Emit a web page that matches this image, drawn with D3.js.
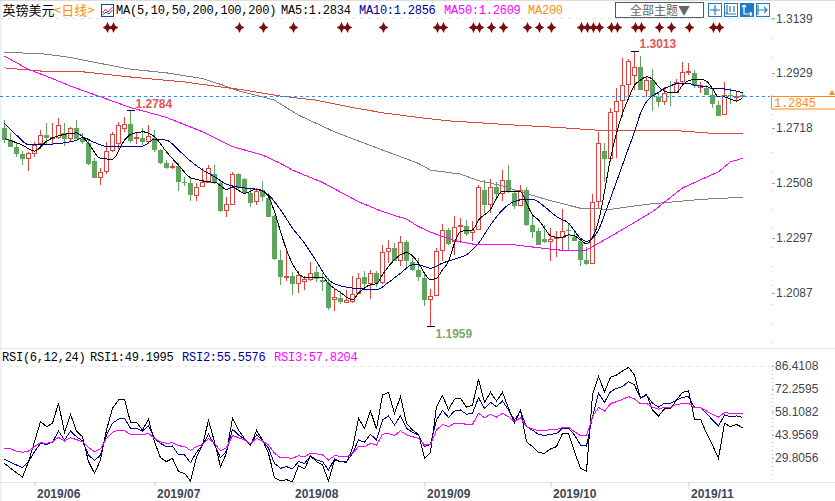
<!DOCTYPE html>
<html>
<head>
<meta charset="utf-8">
<script src="https://cdn.jsdelivr.net/npm/d3@7"></script>
<style>
  html, body { margin: 0; padding: 0; background: #fff; }
  svg { display: block; }
  .mono { font-family: "Liberation Mono", monospace; font-size: 12px; letter-spacing: -0.24px; }
  .axis text { font-family: "Liberation Sans", Arial, sans-serif; font-size: 12px; fill: #3f4650; }
</style>
</head>
<body>
<div class="chart"></div>
<script>
// Daily GBP/USD candles, one row per ten bars
const opens = [
  1.2719,1.2672,1.2647,1.2619,1.2602,1.2621,1.2658,1.2690,1.2680,1.2682,
  1.2701,1.2677,1.2717,1.2678,1.2663,1.2592,1.2529,1.2551,1.2631,1.2661,
  1.2715,1.2732,1.2678,1.2680,1.2666,1.2682,1.2634,1.2583,1.2566,1.2573,
  1.2510,1.2508,1.2460,1.2494,1.2511,1.2542,1.2507,1.2402,1.2426,1.2542,
  1.2523,1.2471,1.2437,1.2481,1.2452,1.2382,1.2213,1.2146,1.2152,1.2123,
  1.2132,1.2139,1.2165,1.2137,1.2124,1.2063,1.2068,1.2051,1.2054,1.2086,
  1.2146,1.2122,1.2162,1.2128,1.2247,1.2258,1.2211,1.2281,1.2204,1.2175,
  1.2143,1.2063,1.2078,1.2249,1.2328,1.2285,1.2341,1.2344,1.2319,1.2331,
  1.2481,1.2425,1.2494,1.2468,1.2519,1.2471,1.2423,1.2481,1.2347,1.2324,
  1.2294,1.2284,1.2295,1.2300,1.2328,1.2300,1.2286,1.2213,1.2199,1.2437,
  1.2630,1.2602,1.2781,1.2824,1.2886,1.2919,1.2951,1.2864,1.2902,1.2838,
  1.2819,1.2857,1.2854,1.2896,1.2933,1.2928,1.2874,1.2873,1.2845,1.2806,
  1.2771,1.2845,1.2837,1.2845
];
const highs = [
  1.2749,1.2698,1.2663,1.2630,1.2627,1.2666,1.2710,1.2736,1.2736,1.2755,
  1.2736,1.2723,1.2751,1.2698,1.2678,1.2602,1.2564,1.2666,1.2704,1.2742,
  1.2759,1.2784,1.2698,1.2717,1.2729,1.2710,1.2640,1.2596,1.2585,1.2586,
  1.2532,1.2526,1.2507,1.2564,1.2577,1.2577,1.2519,1.2456,1.2551,1.2545,
  1.2526,1.2488,1.2488,1.2517,1.2468,1.2386,1.2252,1.2249,1.2165,1.2169,
  1.2152,1.2206,1.2188,1.2162,1.2143,1.2105,1.2092,1.2099,1.2150,1.2162,
  1.2169,1.2175,1.2169,1.2271,1.2290,1.2277,1.2305,1.2290,1.2220,1.2220,
  1.2162,1.2101,1.2258,1.2350,1.2335,1.2382,1.2373,1.2366,1.2364,1.2500,
  1.2519,1.2522,1.2513,1.2558,1.2577,1.2484,1.2500,1.2494,1.2382,1.2335,
  1.2347,1.2335,1.2322,1.2407,1.2356,1.2328,1.2296,1.2264,1.2466,1.2702,
  1.2660,1.2794,1.2873,1.2985,1.2982,1.3013,1.2995,1.2915,1.2944,1.2857,
  1.2877,1.2898,1.2908,1.2970,1.2966,1.2940,1.2896,1.2883,1.2873,1.2822,
  1.2893,1.2870,1.2857,1.2851
];
const lows = [
  1.2663,1.2644,1.2608,1.2576,1.2555,1.2608,1.2640,1.2659,1.2653,1.2678,
  1.2650,1.2668,1.2677,1.2657,1.2576,1.2527,1.2500,1.2541,1.2627,1.2640,
  1.2704,1.2663,1.2659,1.2653,1.2659,1.2627,1.2582,1.2560,1.2560,1.2478,
  1.2496,1.2437,1.2440,1.2494,1.2507,1.2504,1.2395,1.2379,1.2424,1.2479,
  1.2468,1.2417,1.2424,1.2437,1.2377,1.2211,1.2118,1.2134,1.2080,1.2088,
  1.2099,1.2134,1.2127,1.2092,1.2022,1.2016,1.2043,1.2048,1.2048,1.2083,
  1.2099,1.2065,1.2111,1.2122,1.2201,1.2207,1.2188,1.2182,1.2169,1.2131,
  1.2035,1.1959,1.2076,1.2207,1.2271,1.2233,1.2277,1.2305,1.2284,1.2326,
  1.2392,1.2392,1.2443,1.2437,1.2471,1.2409,1.2420,1.2343,1.2296,1.2271,
  1.2277,1.2207,1.2226,1.2252,1.2252,1.2284,1.2190,1.2194,1.2198,1.2411,
  1.2513,1.2590,1.2602,1.2762,1.2826,1.2864,1.2864,1.2838,1.2785,1.2800,
  1.2806,1.2803,1.2851,1.2886,1.2921,1.2873,1.2851,1.2845,1.2794,1.2766,
  1.2771,1.2810,1.2822,1.2834
];
const closes = [
  1.2672,1.2647,1.2619,1.2599,1.2621,1.2653,1.2690,1.2681,1.2682,1.2727,
  1.2678,1.2717,1.2678,1.2666,1.2579,1.2528,1.2547,1.2629,1.2694,1.2727,
  1.2732,1.2670,1.2681,1.2666,1.2685,1.2634,1.2583,1.2566,1.2570,1.2511,
  1.2506,1.2460,1.2491,1.2509,1.2564,1.2507,1.2402,1.2424,1.2541,1.2488,
  1.2470,1.2433,1.2477,1.2453,1.2379,1.2216,1.2146,1.2151,1.2122,1.2155,
  1.2137,1.2162,1.2139,1.2127,1.2027,1.2068,1.2053,1.2057,1.2082,1.2143,
  1.2120,1.2162,1.2124,1.2241,1.2258,1.2210,1.2281,1.2207,1.2175,1.2148,
  1.2060,1.2074,1.2247,1.2327,1.2275,1.2338,1.2344,1.2313,1.2327,1.2491,
  1.2425,1.2491,1.2466,1.2518,1.2475,1.2420,1.2479,1.2347,1.2321,1.2271,
  1.2281,1.2292,1.2299,1.2323,1.2322,1.2286,1.2213,1.2198,1.2434,1.2660,
  1.2600,1.2777,1.2819,1.2880,1.2975,1.2951,1.2864,1.2902,1.2838,1.2819,
  1.2851,1.2854,1.2893,1.2931,1.2937,1.2880,1.2880,1.2845,1.2810,1.2766,
  1.2842,1.2841,1.2841,1.2838
];

// Moving averages, sampled by hand where the line bends: bar number + price
const ma5Bars = [0,3,5,7,9,12,14,16,18,20,21,23,25,27,29,31,32,34,35,37,38,40,42,43,44,45,46,47,49,50,53,54,56,58,59,61,
  62,63,64,67,69,70,71,72,73,74,75,76,78,79,81,82,83,86,87,88,89,90,91,92,93,94,95,96,97,98,99,100,101,102,103,104,105,106,107,108,109,110,111,112,113,114,115,116,117,118,119,120,121,122,123];
const ma5 = [1.2678,1.2653,1.2630,1.2668,1.2689,1.2700,1.2659,1.2602,1.2599,1.2672,1.2694,1.2704,1.2685,1.2627,1.2576,1.2528,1.2522,1.2512,1.2511,1.2484,1.2491,1.2468,1.2484,1.2479,1.2456,1.2398,1.2322,1.2252,1.2162,1.2146,1.2147,1.2122,1.2088,1.2060,1.2086,1.2118,
  1.2122,1.2156,1.2188,1.2241,1.2201,1.2162,1.2137,1.2143,1.2175,1.2207,1.2277,1.2322,1.2328,1.2366,1.2407,1.2449,1.2477,1.2475,1.2430,1.2386,1.2366,1.2335,1.2305,1.2300,1.2300,1.2309,1.2305,1.2290,1.2275,1.2299,1.2360,1.2475,1.2602,1.2698,1.2775,1.2832,1.2883,1.2902,1.2915,1.2905,1.2877,1.2860,1.2854,1.2854,1.2883,1.2900,1.2905,1.2906,1.2898,1.2870,1.2838,1.2838,1.2829,1.2822,1.2834];

const ma10Bars = [0,2,4,6,9,12,13,15,17,20,23,25,27,29,31,33,35,37,40,42,44,46,48,50,52,54,56,58,60,62,64,66,68,69,71,73,75,77,78,79,81,83,85,87,88,90,92,94,96,97,98,99,100,101,102,103,104,105,106,107,108,109,110,111,112,113,114,115,116,117,118,119,120,121,122,123];
const ma10 = [1.2736,1.2691,1.2655,1.2655,1.2659,1.2672,1.2682,1.2663,1.2648,1.2646,1.2649,1.2675,1.2672,1.2634,1.2592,1.2558,1.2532,1.2503,1.2489,1.2484,1.2462,1.2405,1.2335,1.2277,1.2207,1.2137,1.2114,1.2105,1.2101,1.2099,1.2127,1.2162,1.2194,1.2194,1.2181,1.2201,1.2216,1.2233,1.2252,1.2277,1.2347,1.2405,1.2437,1.2446,1.2446,1.2417,1.2379,1.2354,1.2296,1.2284,1.2296,1.2328,1.2386,1.2449,1.2513,1.2577,1.2641,1.2704,1.2775,1.2819,1.2842,1.2855,1.2870,1.2880,1.2888,1.2889,1.2889,1.2883,1.2879,1.2877,1.2870,1.2870,1.2868,1.2864,1.2860,1.2853];

const ma50Bars = [0,4,8,11,16,21,27,33,38,43,46,48,53,59,63,67,69,71,75,78,85,91,94,97,102,108,113,119,121,123];
const ma50 = [1.2994,1.2943,1.2908,1.2879,1.2838,1.2797,1.2759,1.2704,1.2647,1.2615,1.2583,1.2557,1.2510,1.2436,1.2398,1.2369,1.2341,1.2319,1.2287,1.2274,1.2271,1.2254,1.2248,1.2251,1.2316,1.2398,1.2489,1.2551,1.2589,1.2602];

const ma100Bars = [0,6,11,16,21,27,33,36,39,43,45,49,55,60,69,71,76,79,83,86,91,96,101,107,116,123];
const ma100 = [1.3008,1.3004,1.2989,1.2966,1.2944,1.2930,1.2908,1.2886,1.2861,1.2838,1.2825,1.2768,1.2704,1.2660,1.2583,1.2557,1.2542,1.2517,1.2497,1.2474,1.2440,1.2411,1.2407,1.2426,1.2445,1.2453];

const ma200Bars = [0,6,13,21,30,36,40,46,52,58,63,69,74,85,92,99,113,118,123];
const ma200 = [1.2949,1.2937,1.2934,1.2914,1.2895,1.2876,1.2864,1.2841,1.2825,1.2797,1.2777,1.2759,1.2746,1.2730,1.2721,1.2710,1.2707,1.2698,1.2698];

// RSI, one value per bar
const rsi1 = [
  26.3,23.3,20.6,17.9,27.4,39.6,52.0,48.9,51.0,63.3,45.4,56.5,46.2,42.7,27.4,20.2,28.4,46.8,60.2,65.3,
  65.9,51.6,51.6,46.8,53.4,39.6,29.8,27.4,29.4,21.2,20.2,15.5,30.4,37.6,52.8,39.6,24.3,32.5,54.4,46.8,
  41.7,37.2,46.6,40.7,32.5,17.5,15.5,16.3,15.0,24.9,22.9,30.9,27.4,25.3,15.5,28.4,27.4,27.0,35.6,54.0,
  47.9,58.5,47.5,68.4,70.0,57.1,67.4,51.0,46.8,44.2,29.4,33.1,61.2,68.0,59.2,65.9,66.3,60.8,62.2,78.0,
  63.9,70.0,64.7,70.0,60.2,51.0,59.2,39.6,36.6,32.9,32.5,35.2,36.6,44.8,44.8,33.5,23.3,21.6,68.4,79.7,
  70.4,79.3,80.7,83.2,85.4,80.7,66.3,68.8,59.2,55.5,59.8,59.8,65.3,70.0,70.9,53.6,53.6,44.8,37.6,29.4,
  51.0,48.9,50.3,48.3
];
const rsi2 = [
  28.8,26.9,25.3,23.7,27.4,33.5,38.6,38.0,39.3,46.2,40.7,46.2,42.7,40.1,31.5,28.0,31.5,43.8,51.0,53.6,
  54.0,47.9,47.9,46.2,49.5,41.7,38.6,36.6,37.0,31.5,31.5,26.8,33.1,37.6,44.2,37.6,29.8,33.9,47.3,43.8,
  41.3,38.0,43.8,40.7,35.6,26.3,23.3,24.3,22.9,27.4,26.3,30.9,28.4,27.4,22.2,29.0,27.4,27.4,32.5,40.7,
  39.3,44.2,40.7,53.0,55.5,49.9,55.7,47.9,45.4,43.8,36.6,38.0,53.0,58.9,54.6,58.5,59.2,56.5,57.1,66.7,
  60.2,63.9,61.2,64.7,59.2,53.0,58.5,48.9,46.8,44.2,43.4,44.2,44.6,47.9,47.9,43.8,37.6,37.0,55.0,69.4,
  63.9,70.4,72.5,73.5,76.6,74.5,66.3,68.4,63.3,61.0,63.3,63.3,65.3,67.0,67.4,60.8,60.8,57.1,53.0,49.3,
  56.1,55.0,55.5,54.6
];
const rsi3 = [
  35.6,35.2,33.9,33.1,33.9,36.6,39.0,38.6,39.6,42.3,40.1,42.1,40.9,39.6,36.0,33.5,35.2,41.7,45.4,46.8,
  46.4,44.2,44.2,43.8,44.8,41.7,39.6,38.6,39.0,37.2,36.6,34.3,36.6,38.0,41.7,38.6,34.1,36.0,43.4,42.1,
  40.7,38.4,41.7,40.1,37.6,32.5,29.8,29.8,29.4,31.0,30.4,32.5,32.1,31.5,28.4,31.0,30.7,30.4,32.5,36.6,
  36.6,38.6,37.6,44.2,44.8,43.4,46.4,43.8,42.7,41.7,37.6,38.0,46.8,50.3,48.9,51.0,51.0,50.3,50.3,57.1,
  54.4,56.5,54.8,57.1,55.0,52.0,54.4,48.9,47.5,46.4,46.4,47.1,47.1,48.5,48.5,45.8,43.4,43.2,55.0,60.8,
  58.5,63.0,64.3,65.7,67.4,65.9,62.9,63.3,60.8,59.6,60.8,60.8,62.6,63.0,63.3,60.6,60.6,58.5,56.5,54.8,
  57.7,57.1,57.1,57.1
];

// Signal markers along the top of the chart (bar numbers)
const signalBars = [17,18,39,43,48,56,57,63,72,73,78,79,81,83,87,89,91,96,97,98,99,101,102,105,106,109,111,114,118,119];

// Axis ticks and labels
const priceTicks = [1.3139,1.2929,1.2718,1.2508,1.2297,1.2087];
const rsiTicks = [86.4108,72.2595,58.1082,43.9569,29.8056];
const monthBars = [5,25,48,70,91,114];
const monthLabels = ["2019/06","2019/07","2019/08","2019/09","2019/10","2019/11"];
const extremes = [
  {bar: 21, price: 1.2784, text: "1.2784", color: "#e0555a", dx: 5, dy: -3},
  {bar: 105, price: 1.3013, text: "1.3013", color: "#e0555a", dx: 5, dy: -3},
  {bar: 71, price: 1.1959, text: "1.1959", color: "#7cab63", dx: 5, dy: 12}
];
const lastLevel = 1.2839;
const lastLabel = "1.2845";

const width = 835, height = 501;
const axisX = 772;

const x = d3.scaleLinear().domain([0, 123]).range([4.5, 742.5]);
const y = d3.scaleLinear().domain([1.3139, 1.2087]).range([18.3, 292.8]);
const yRsi = d3.scaleLinear().domain([86.4108, 29.8056]).range([365.7, 457.7]);
const px = v => Math.round(v - 0.5) + 0.5;

const svg = d3.select(".chart").append("svg")
    .attr("width", width)
    .attr("height", height);

// Frame bits
svg.append("rect").attr("x", 0).attr("y", 0).attr("width", 1.5).attr("height", height).attr("fill", "#e8f0f6");
svg.append("line").attr("x1", 0).attr("x2", width).attr("y1", 0.5).attr("y2", 0.5).attr("stroke", "#dcdcdc");
svg.append("line").attr("x1", 0).attr("x2", axisX).attr("y1", 18.5).attr("y2", 18.5)
    .attr("stroke", "#e6e6e6").attr("stroke-dasharray", "4,4");
svg.append("line").attr("x1", 0).attr("x2", width).attr("y1", 348.5).attr("y2", 348.5).attr("stroke", "#e4e4e4");
svg.append("line").attr("x1", 0).attr("x2", axisX).attr("y1", 366.5).attr("y2", 366.5)
    .attr("stroke", "#e6e6e6").attr("stroke-dasharray", "4,4");
svg.append("line").attr("x1", 0).attr("x2", width).attr("y1", 482.5).attr("y2", 482.5).attr("stroke", "#e4e4e4");

// Price axis
const priceAxis = svg.append("g")
    .attr("class", "axis")
    .attr("transform", "translate(" + axisX + ",0)")
    .call(d3.axisRight(y).tickValues(priceTicks).tickSize(3).tickPadding(1).tickFormat(d3.format(".4f")));
priceAxis.select(".domain").remove();
priceAxis.selectAll("line").attr("stroke", "#999");
svg.append("line").attr("x1", axisX + 0.5).attr("x2", axisX + 0.5).attr("y1", 19).attr("y2", 345)
    .attr("stroke", "#bbb").attr("stroke-dasharray", "1,18");

// RSI axis
const rsiAxis = svg.append("g")
    .attr("class", "axis")
    .attr("transform", "translate(" + axisX + ",0)")
    .call(d3.axisRight(yRsi).tickValues(rsiTicks).tickSize(2).tickPadding(1).tickFormat(d3.format(".4f")));
rsiAxis.select(".domain").remove();
rsiAxis.selectAll("line").attr("stroke", "#999");
svg.append("line").attr("x1", axisX + 0.5).attr("x2", axisX + 0.5).attr("y1", 366).attr("y2", 478)
    .attr("stroke", "#bbb").attr("stroke-dasharray", "1,3");

// Date axis
const dateAxis = svg.append("g")
    .attr("class", "axis")
    .attr("transform", "translate(0,482)")
    .call(d3.axisBottom(x).tickValues(monthBars).tickSize(5).tickPadding(2)
        .tickFormat((d, i) => monthLabels[i]));
dateAxis.select(".domain").remove();
dateAxis.selectAll("line").attr("stroke", "#ccc");
dateAxis.selectAll("text")
    .attr("text-anchor", "start")
    .attr("x", 2)
    .style("font-weight", "bold")
    .style("fill", "#3b4658");

// Candles
const bars = d3.range(opens.length);
const up = i => closes[i] >= opens[i];
const candleColor = i => up(i) ? "#dc4440" : "#5fa55f";

const candles = svg.append("g").attr("shape-rendering", "crispEdges");
candles.selectAll(".wick").data(bars).join("line")
    .attr("class", "wick")
    .attr("x1", i => x(i)).attr("x2", i => x(i))
    .attr("y1", i => y(highs[i])).attr("y2", i => y(lows[i]))
    .attr("stroke", candleColor);
candles.selectAll(".box").data(bars).join("rect")
    .attr("class", "box")
    .attr("x", i => up(i) ? x(i) - 2 : x(i) - 2.5)
    .attr("width", i => up(i) ? 4 : 5)
    .attr("y", i => up(i) ? px(y(closes[i])) : y(opens[i]))
    .attr("height", i => up(i)
        ? Math.max(1, px(y(opens[i])) - px(y(closes[i])))
        : Math.max(1, y(closes[i]) - y(opens[i])))
    .attr("fill", i => up(i) ? "#fff" : "#5fa55f")
    .attr("stroke", i => up(i) ? "#dc4440" : "none");

// Moving average lines
const drawMa = (barList, values, color, curve) => {
    const line = d3.line()
        .x((d, i) => x(barList[i]))
        .y(d => y(d))
        .curve(curve);
    svg.append("path")
        .datum(values)
        .attr("fill", "none")
        .attr("stroke", color)
        .attr("stroke-width", 1)
        .attr("shape-rendering", "crispEdges")
        .attr("d", line);
};
drawMa(ma100Bars, ma100, "#808080", d3.curveLinear);
drawMa(ma200Bars, ma200, "#d5483e", d3.curveLinear);
drawMa(ma50Bars, ma50, "#ff00ff", d3.curveLinear);
drawMa(ma10Bars, ma10, "#000099", d3.curveMonotoneX);
drawMa(ma5Bars, ma5, "#000000", d3.curveMonotoneX);

// Last price line and tag
svg.append("line")
    .attr("x1", 0).attr("x2", 770)
    .attr("y1", px(y(lastLevel))).attr("y2", px(y(lastLevel)))
    .attr("stroke", "#1e90ff").attr("stroke-dasharray", "3,3");
svg.append("line")
    .attr("x1", 771).attr("x2", width)
    .attr("y1", px(y(lastLevel))).attr("y2", px(y(lastLevel)))
    .attr("stroke", "#ff8c1a");
svg.append("rect")
    .attr("x", 771.5).attr("y", px(y(lastLevel))).attr("width", 70).attr("height", 12.5)
    .attr("fill", "#fff").attr("stroke", "#ff8c1a");
svg.append("text")
    .attr("x", 774).attr("y", px(y(lastLevel)) + 10.5)
    .attr("class", "mono")
    .style("fill", "#ff8c1a")
    .text(lastLabel);
svg.append("path")
    .attr("d", "M829,95L832,90L835,95Z")
    .attr("fill", "#ff8c1a");

// High and low marks
const marks = svg.append("g");
marks.selectAll("line").data(extremes).join("line")
    .attr("x1", d => x(d.bar) - 4).attr("x2", d => x(d.bar) + 4)
    .attr("y1", d => px(y(d.price))).attr("y2", d => px(y(d.price)))
    .attr("stroke", "#000")
    .attr("shape-rendering", "crispEdges");
marks.selectAll("text").data(extremes).join("text")
    .attr("x", d => x(d.bar) + d.dx)
    .attr("y", d => y(d.price) + d.dy)
    .attr("fill", d => d.color)
    .style("font-family", "'Liberation Sans', Arial, sans-serif")
    .style("font-size", "12px")
    .style("font-weight", "bold")
    .text(d => d.text);

// Signal diamonds
svg.append("g").selectAll("path").data(signalBars).join("path")
    .attr("transform", d => "translate(" + (x(d) + 1) + ",27.5)")
    .attr("d", "M0,-5.5L1.6,-2L4.8,0L1.6,2L0,5.5L-1.6,2L-4.8,0L-1.6,-2Z")
    .attr("fill", "#7a0c0c");

// RSI lines
const rsiLine = d3.line()
    .x((d, i) => x(i))
    .y(d => yRsi(d));
[[rsi1, "#000000"], [rsi2, "#000099"], [rsi3, "#ff00ff"]].forEach(([values, color]) => {
    svg.append("path")
        .datum(values)
        .attr("fill", "none")
        .attr("stroke", color)
        .attr("stroke-width", 1)
        .attr("shape-rendering", "crispEdges")
        .attr("d", rsiLine);
});

// Legend row at the top
const cjk = "'Noto Sans CJK SC', sans-serif";
svg.append("text").attr("x", 2.5).attr("y", 14.5)
    .style("font-family", cjk).style("font-size", "13px").attr("fill", "#000").text("英镑美元");
svg.append("text").attr("x", 54).attr("y", 14.5)
    .style("font-family", cjk).style("font-size", "13px").attr("fill", "#ff8c00").text("<日线>");

const icon = svg.append("g").attr("transform", "translate(101,4)");
icon.append("rect").attr("x", 0.5).attr("y", 0.5).attr("width", 12).attr("height", 12)
    .attr("fill", "#fff").attr("stroke", "#1c3f8f");
icon.append("path").attr("d", "M1.5,9L4.5,5L7,8L11.5,3").attr("fill", "none").attr("stroke", "#e03030");
icon.append("path").attr("d", "M1.5,11L5,8L8,10L11.5,6").attr("fill", "none").attr("stroke", "#2050c0");

const legend = [
  ["MA(5,10,50,200,100,200)", 116, "#000"],
  ["MA5:1.2834", 281, "#000"],
  ["MA10:1.2856", 359, "#000099"],
  ["MA50:1.2609", 444, "#ff00ff"],
  ["MA200", 528, "#ff8c1a"]
];
svg.append("g").selectAll("text").data(legend).join("text")
    .attr("class", "mono")
    .attr("x", d => d[1]).attr("y", 14)
    .attr("fill", d => d[2])
    .text(d => d[0]);

const rsiLegend = [
  ["RSI(6,12,24)", 2, "#000"],
  ["RSI1:49.1995", 90, "#000"],
  ["RSI2:55.5576", 182, "#000099"],
  ["RSI3:57.8204", 274, "#ff00ff"]
];
svg.append("g").selectAll("text").data(rsiLegend).join("text")
    .attr("class", "mono")
    .attr("x", d => d[1]).attr("y", 361)
    .attr("fill", d => d[2])
    .text(d => d[0]);

// Theme button and the small toolbar icons
svg.append("rect").attr("x", 615.5).attr("y", 2.5).attr("width", 88).attr("height", 15)
    .attr("fill", "#fff").attr("stroke", "#4a5a6a");
svg.append("text").attr("x", 630).attr("y", 14.5)
    .style("font-family", cjk).style("font-size", "12px").attr("fill", "#666").text("全部主题▼");

const toolIcons = [708, 724, 740, 756];
const toolPaths = [
  "M7,2V5M7,9V12M2,7H5M9,7H12M6,6H8V8H6Z",
  "M3,2V11H12M6,3V9M10,3V9M3,11L1.5,9.5",
  "M4,2V11H12M4,2L2,4M4,2L6,4M12,11L10,9M12,11L10,13",
  "M2,2V12M2,7H11M8,4L11,7L8,10"
];
toolIcons.forEach((tx, i) => {
    const on = i === 2;
    const g = svg.append("g").attr("transform", "translate(" + tx + ",3)");
    g.append("rect").attr("x", 0.5).attr("y", 0.5).attr("width", 13).attr("height", 13)
        .attr("fill", on ? "#1a7cc4" : "#fff").attr("stroke", "#1a7cc4");
    g.append("path").attr("d", toolPaths[i]).attr("fill", "none")
        .attr("stroke", on ? "#fff" : "#1a7cc4").attr("stroke-width", 1.2);
});
</script>
</body>
</html>
